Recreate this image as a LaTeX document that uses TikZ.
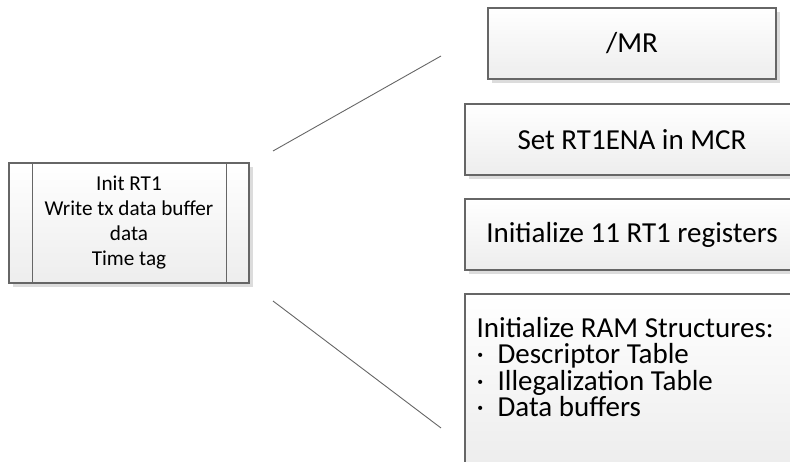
\documentclass[tikz,border=0pt]{standalone}
\usepackage{fontspec}
\setmainfont{Carlito}
\usetikzlibrary{shadows}

\definecolor{edgegray}{HTML}{666666}
\definecolor{shadegray}{HTML}{EDEDED}
\definecolor{shadowgray}{HTML}{DCDCDC}

\newcommand{\ramfont}{\fontsize{29}{26.2}\selectfont\lineskiplimit -30pt\relax}

\tikzset{
    stepbox/.style={draw=edgegray, line width=1.1pt, rectangle, inner sep=0pt,
        top color=white, bottom color=shadegray,
        drop shadow={shadow xshift=4pt, shadow yshift=-4pt, fill=shadowgray, opacity=1},
        font=\fontsize{29}{26}\selectfont, align=flush center},
    link/.style={draw=edgegray, line width=0.9pt}
}

\begin{document}
\begin{tikzpicture}[x=1pt, y=-1pt]
    \clip (0,0) rectangle (790,462);

    % left process block with side bars
    \node[stepbox, minimum width=240pt, minimum height=120pt,
          font=\fontsize{21.2}{25}\selectfont] (initrt) at (129,223)
        {Init RT1\\Write tx data buffer\\data\\Time tag};
    \draw[edgegray, line width=1.1pt] ([xshift=24pt]initrt.north west) -- ([xshift=24pt]initrt.south west);
    \draw[edgegray, line width=1.1pt] ([xshift=-23pt]initrt.north east) -- ([xshift=-23pt]initrt.south east);

    % steps on the right
    \node[stepbox, minimum width=288pt, minimum height=71pt] (mr) at (632,43.5) {/MR};
    \node[stepbox, minimum width=334pt, minimum height=71pt] (mcr) at (632,139.5) {Set RT1ENA in MCR};
    \node[stepbox, minimum width=334pt, minimum height=71pt] (regs) at (632,234.5) {Initialize 11 RT1 registers};
    \node[stepbox, minimum width=334pt, minimum height=170pt] (ram) at (632,379) {};
    \node[anchor=north west, inner sep=0pt, align=flush left, font=\ramfont] (ramtext)
        at ([xshift=12pt, yshift=-24pt]ram.north west)
        {Initialize RAM Structures:\\
         \makebox[21pt][l]{·}Descriptor Table\\
         \makebox[21pt][l]{·}Illegalization Table\\
         \makebox[21pt][l]{·}Data buffers};

    % zoom lines
    \coordinate (zoomA) at (273,151);
    \coordinate (zoomB) at (441,56);
    \coordinate (zoomC) at (273,301);
    \coordinate (zoomD) at (441,428);
    \draw[link] (zoomA) -- (zoomB);
    \draw[link] (zoomC) -- (zoomD);
\end{tikzpicture}
\end{document}
